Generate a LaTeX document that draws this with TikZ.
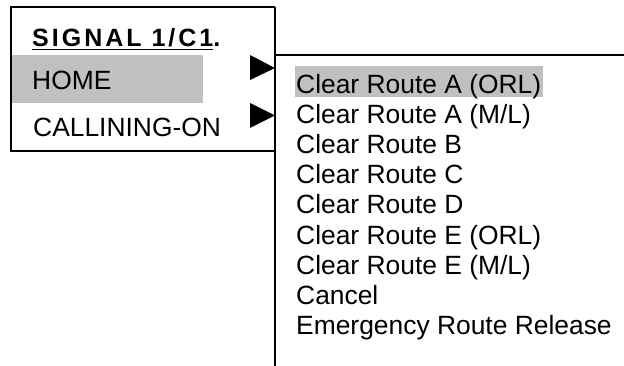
\documentclass[tikz,border=0pt]{standalone}
\usepackage{fontspec}
\setmainfont{Liberation Sans}
\begin{document}
\begin{tikzpicture}[x=1pt,y=-1pt,
  frame/.style={line width=1.8pt,black},
  hilite/.style={fill=hl,draw=none},
  item/.style={anchor=base west,inner sep=0pt,font=\fontsize{26.4}{30}\selectfont},
  title/.style={anchor=base west,inner sep=0pt,font=\fontsize{25}{30}\selectfont\bfseries\addfontfeature{LetterSpace=12}},
  tri/.style={fill=black,draw=none}]
\definecolor{hl}{RGB}{192,192,192}
\useasboundingbox (0,0) rectangle (624,366);
% highlights
\fill[hilite] (11,55) rectangle (203,103);
\fill[hilite] (295,66) rectangle (543,97);
% frames
\draw[frame] (275,7) -- (11,7) -- (11,151) -- (275,151);
\draw[frame] (275,7) -- (275,366);
\draw[frame] (275,55) -- (624,55);
% arrows
\fill[tri] (250,55) -- (275,68) -- (250,80) -- cycle;
\fill[tri] (250,103) -- (275,115.5) -- (250,128) -- cycle;
% left menu
\node[title] (t) at (32,47) {\underline{SIGNAL 1/C1}.};
\node[item] (home) at (32,90) {HOME};
\node[item] (call) at (33,137) {CALLINING-ON};
% right menu
\node[item] (r1) at (296,94) {Clear Route A (ORL)};
\node[item] (r2) at (296,124) {Clear Route A (M/L)};
\node[item] (r3) at (296,154) {Clear Route B};
\node[item] (r4) at (296,184) {Clear Route C};
\node[item] (r5) at (296,214) {Clear Route D};
\node[item] (r6) at (296,244) {Clear Route E (ORL)};
\node[item] (r7) at (296,274) {Clear Route E (M/L)};
\node[item] (r8) at (296,304) {Cancel};
\node[item] (r9) at (296,334) {Emergency Route Release};
\end{tikzpicture}
\end{document}
